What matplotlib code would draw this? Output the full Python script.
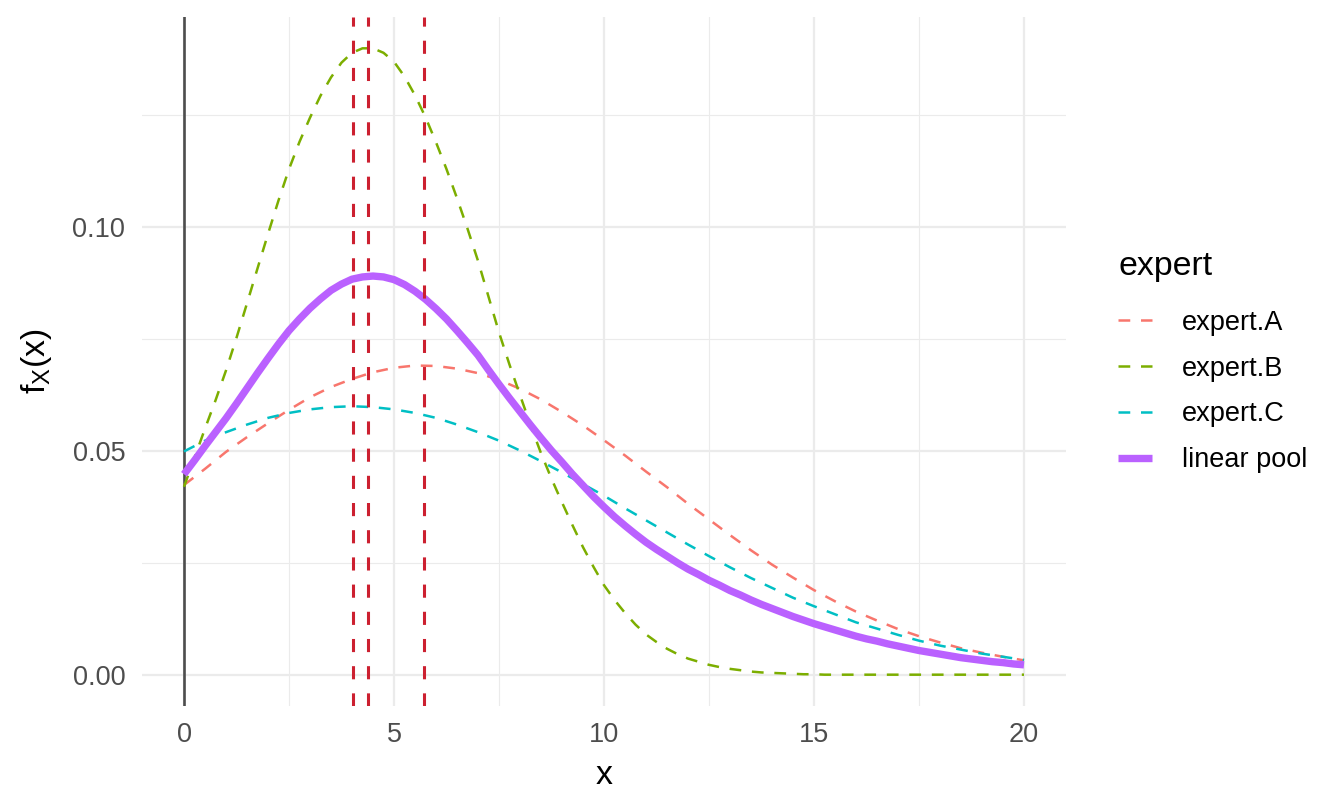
import matplotlib
matplotlib.use('Agg')
import matplotlib.pyplot as plt
import numpy as np
from matplotlib.ticker import FixedLocator

plt.rcParams['font.family'] = ['Liberation Sans', 'DejaVu Sans']
plt.rcParams['mathtext.fontset'] = 'custom'
plt.rcParams['mathtext.rm'] = 'Liberation Sans'
plt.rcParams['mathtext.it'] = 'Liberation Sans:italic'

# densities
# expert.A and expert.C on a 0.5 grid, expert.B and the pool on a 0.25 grid (sharper peaks)
x_half = np.arange(0, 20.5, 0.5)
x_quarter = np.arange(0, 20.25, 0.25)

expert_a = [0.0424, 0.0460, 0.0498, 0.0531, 0.0562, 0.0592, 0.0620, 0.0643, 0.0661, 0.0676,
            0.0686, 0.0691, 0.0690, 0.0684, 0.0674, 0.0659, 0.0639, 0.0615, 0.0587, 0.0557,
            0.0524, 0.0490, 0.0454, 0.0419, 0.0382, 0.0347, 0.0312, 0.0278, 0.0246, 0.0217,
            0.0189, 0.0164, 0.0141, 0.0121, 0.0102, 0.0086, 0.0072, 0.0059, 0.0049, 0.0040,
            0.0032]
expert_c = [0.0499, 0.0523, 0.0542, 0.0559, 0.0574, 0.0585, 0.0593, 0.0598, 0.0600, 0.0598,
            0.0593, 0.0585, 0.0574, 0.0559, 0.0542, 0.0523, 0.0501, 0.0477, 0.0452, 0.0426,
            0.0400, 0.0372, 0.0345, 0.0318, 0.0291, 0.0265, 0.0240, 0.0216, 0.0194, 0.0172,
            0.0153, 0.0135, 0.0117, 0.0103, 0.0089, 0.0076, 0.0065, 0.0056, 0.0047, 0.0040,
            0.0033]
expert_b = [0.0420, 0.0485, 0.0550, 0.0613,
            0.0680, 0.0753, 0.0830, 0.0908,
            0.0985, 0.1060, 0.1130, 0.1191,
            0.1245, 0.1294, 0.1335, 0.1368,
            0.1390, 0.1400, 0.1400, 0.1390,
            0.1370, 0.1337, 0.1295, 0.1246,
            0.1190, 0.1130, 0.1065, 0.0997,
            0.0925, 0.0845, 0.0765, 0.0693,
            0.0625, 0.0558, 0.0495, 0.0438,
            0.0385, 0.0334, 0.0285, 0.0241,
            0.0200, 0.0167, 0.0138, 0.0112,
            0.0090, 0.0073, 0.0058, 0.0046,
            0.0036, 0.0029, 0.0022, 0.0017,
            0.0013, 0.0010, 0.0007, 0.0005,
            0.0004, 0.0003, 0.0002, 0.0001,
            0.0001, 0.0, 0.0, 0.0,
            0.0, 0.0, 0.0, 0.0,
            0.0, 0.0, 0.0, 0.0,
            0.0, 0.0, 0.0, 0.0,
            0.0, 0.0, 0.0, 0.0,
            0.0]
linear_pool = [0.0448, 0.0479, 0.0511, 0.0542,
               0.0573, 0.0606, 0.0640, 0.0674,
               0.0707, 0.0739, 0.0769, 0.0795,
               0.0819, 0.0840, 0.0859, 0.0873,
               0.0884, 0.0889, 0.0891, 0.0889,
               0.0883, 0.0872, 0.0857, 0.0839,
               0.0818, 0.0795, 0.0769, 0.0742,
               0.0714, 0.0681, 0.0649, 0.0618,
               0.0588, 0.0558, 0.0529, 0.0501,
               0.0475, 0.0448, 0.0423, 0.0398,
               0.0375, 0.0353, 0.0333, 0.0314,
               0.0296, 0.0280, 0.0265, 0.0250,
               0.0236, 0.0224, 0.0211, 0.0200,
               0.0188, 0.0178, 0.0167, 0.0157,
               0.0148, 0.0139, 0.0130, 0.0122,
               0.0114, 0.0107, 0.0100, 0.0093,
               0.0086, 0.0080, 0.0075, 0.0069,
               0.0064, 0.0059, 0.0054, 0.0050,
               0.0046, 0.0042, 0.0038, 0.0035,
               0.0032, 0.0029, 0.0027, 0.0024,
               0.0022]
quantile_lines = [4.02, 4.38, 5.72]

series_labels = ['expert.A', 'expert.B', 'expert.C', 'linear pool']
x_ticks = [0, 5, 10, 15, 20]
x_minor = [2.5, 7.5, 12.5, 17.5]
y_ticks = [0.0, 0.05, 0.10]
y_tick_labels = ['0.00', '0.05', '0.10']
y_minor = [0.025, 0.075, 0.125]

colors = ['#F8766D', '#7CAE00', '#00BFC4', '#BA61FF']
expert_dash = (0, (4.7, 4.3))
vline_dash = (0, (4.3, 4.6))

fig = plt.figure(figsize=(13.44, 8.06), dpi=100)
ax = fig.add_axes([142 / 1344, 1 - 706 / 806, 924 / 1344, 689 / 806])
ax.set_xlim(-1, 21)
ax.set_ylim(-0.007, 0.147)
for s in ax.spines.values():
    s.set_visible(False)

ax.xaxis.set_major_locator(FixedLocator(x_ticks))
ax.xaxis.set_minor_locator(FixedLocator(x_minor))
ax.yaxis.set_major_locator(FixedLocator(y_ticks))
ax.yaxis.set_minor_locator(FixedLocator(y_minor))
ax.set_yticklabels(y_tick_labels)
ax.grid(which='major', color='#EBEBEB', lw=1.6)
ax.grid(which='minor', color='#EBEBEB', lw=0.8)
ax.set_axisbelow(True)
ax.tick_params(which='both', length=0, labelsize=19.5, labelcolor='#4D4D4D')
ax.tick_params(axis='x', pad=11.5)
ax.tick_params(axis='y', pad=12)

ax.axvline(0, color='#4D4D4D', lw=1.9, zorder=1.5)

handles = []
for xs, ys, c, lab in zip([x_half, x_quarter, x_half], [expert_a, expert_b, expert_c],
                          colors[:3], series_labels[:3]):
    h, = ax.plot(xs, ys, color=c, lw=1.8, linestyle=expert_dash, label=lab, zorder=2)
    handles.append(h)
h, = ax.plot(x_quarter, linear_pool, color=colors[3], lw=5.3, label=series_labels[3],
             solid_capstyle='butt', solid_joinstyle='round', zorder=3)
handles.append(h)

for q in quantile_lines:
    ax.axvline(q, color='#CC2030', lw=2.2, linestyle=vline_dash, zorder=4)

ax.set_xlabel('x', fontsize=24.4, color='black')
ax.xaxis.label.set_va('center')
ax.xaxis.set_label_coords(0.5, (706 - 775) / 689)
ax.set_ylabel(r'$\mathregular{f_X(x)}$', fontsize=24.4, color='black')
ax.yaxis.label.set_va('center')
ax.yaxis.set_label_coords((36 - 142) / 924, 0.5)

leg = ax.legend(handles, series_labels, title='expert', loc='center left',
                bbox_to_anchor=(1118 / 1344, 1 - 362 / 806), bbox_transform=fig.transFigure,
                frameon=False, fontsize=19.5, title_fontsize=24.4, handlelength=1.26,
                handletextpad=1.11, labelspacing=0.73, borderpad=0, borderaxespad=0,
                alignment='left')
# a little more room under the legend title, as ggplot does
leg._legend_box.sep = 20

fig.savefig('out.png', dpi=100)
